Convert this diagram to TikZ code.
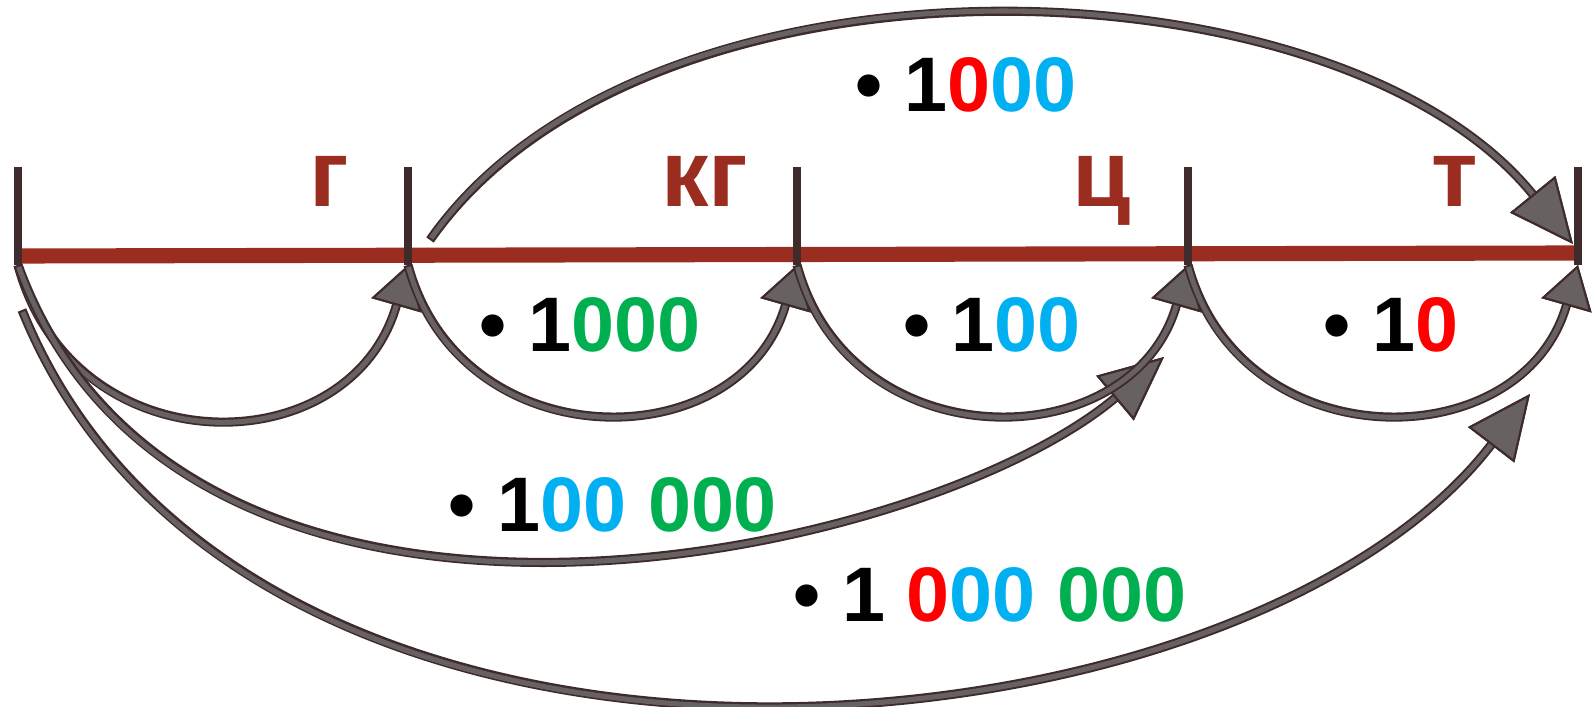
\documentclass[tikz,border=0pt]{standalone}
\usepackage{fontspec}
\setmainfont{Liberation Sans}
\usetikzlibrary{arrows.meta}
\definecolor{scalered}{HTML}{9B2D20}
\definecolor{tickdark}{HTML}{3F2B2B}
\definecolor{arrowgray}{HTML}{676261}
\definecolor{numred}{HTML}{FF0000}
\definecolor{numblue}{HTML}{00B0F0}
\definecolor{numgreen}{HTML}{00B050}
\tikzset{
  unit/.style={text=scalered, font=\fontsize{27}{30}\selectfont\bfseries, anchor=base, inner sep=0pt},
  factor/.style={font=\fontsize{22}{26}\selectfont\bfseries, anchor=base, inner sep=0pt},
  hop/.style={draw=arrowgray, line width=1.45pt, shorten <=0.6pt,
    preaction={draw=tickdark, line width=2.6pt, shorten <=0pt},
    -{Triangle[length=4.2mm, width=5.2mm, line width=0.6pt, color=tickdark, fill=arrowgray]}},
  jump/.style={hop,
    -{Triangle[length=6.4mm, width=5.8mm, line width=0.6pt, color=tickdark, fill=arrowgray]}},
}
\begin{document}
\begin{tikzpicture}
  \useasboundingbox (0,0) rectangle (15.95,7.07);
  % scale
  \coordinate (l0) at (0.18,4.51);
  \coordinate (l4) at (15.78,4.54);
  \draw[scalered, line width=4.3pt] (l0) -- (l4);
  \foreach \x [count=\i from 0] in {0.18,4.08,7.97,11.88,15.78} {
    \coordinate (a\i) at (\x,5.40);
    \coordinate (b\i) at (\x,4.42);
    \draw[tickdark, line width=2.2pt] (a\i) -- (b\i);
  }
  \node[unit] (g)  at (3.29,5.00) {г};
  \node[unit] (kg) at (7.05,5.00) {кг};
  \node[unit] (c)  at (11.02,5.00) {ц};
  \node[unit] (t)  at (14.55,5.00) {т};

  % one step arcs
  \draw[hop] (b0) .. controls +(-75:2.1) and +(-106:2.1) .. (b1);
  \coordinate (s6) at (0.18,4.42);
  \coordinate (e6) at (11.64,3.50);
  \draw[jump] (s6) .. controls +(-70:4.8) and +(-140:3.2) .. (e6);
  \coordinate (s7) at (0.22,3.97);
  \coordinate (e7) at (15.30,3.13);
  \draw[jump] (s7) .. controls +(-68:5.95) and +(-127.4:4.75) .. (e7);
  \draw[hop] (b1) .. controls +(-75:2.03) and +(-106:2.03) .. (b2);
  \draw[hop] (b2) .. controls +(-75:2.03) and +(-106:2.03) .. (b3);
  \draw[hop] (b3) .. controls +(-75:2.03) and +(-106:2.03) .. (b4);
  \coordinate (s5) at (4.30,4.67);
  \coordinate (e5) at (15.73,4.63);
  \draw[jump] (s5) .. controls +(55:3.75) and +(129:3.75) .. (e5);

  % factors
  \node[factor] (f5) at (9.66,5.95) {• 1{\color{numred}0}{\color{numblue}00}};
  \node[factor] (f1) at (5.90,3.55) {• 1{\color{numgreen}000}};
  \node[factor] (f2) at (9.92,3.55) {• 1{\color{numblue}00}};
  \node[factor] (f3) at (13.91,3.55) {• 1{\color{numred}0}};
  \node[factor] (f6) at (6.13,1.75) {• 1{\color{numblue}00} {\color{numgreen}000}};
  \node[factor] (f7) at (9.90,0.85) {• 1 {\color{numred}0}{\color{numblue}00} {\color{numgreen}000}};
\end{tikzpicture}
\end{document}
